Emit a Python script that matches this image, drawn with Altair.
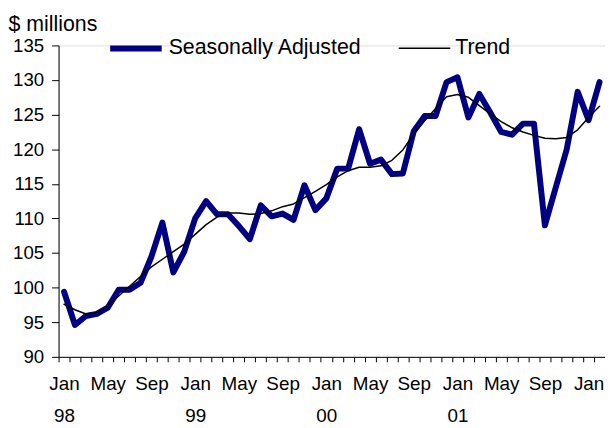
import altair as alt
import pandas as pd

months = ["Jan", "Feb", "Mar", "Apr", "May", "Jun", "Jul", "Aug", "Sep", "Oct", "Nov", "Dec"]
years = ["98", "99", "00", "01", "02"]

seasonally_adjusted = [
    99.4, 94.6, 95.9, 96.2, 97.1, 99.7, 99.7, 100.7, 104.5, 109.4, 102.2, 105.2,
    110.0, 112.5, 110.6, 110.6, 108.9, 107.0, 111.9, 110.3, 110.7, 109.8, 114.8, 111.2,
    112.9, 117.2, 117.2, 122.9, 117.9, 118.5, 116.4, 116.5, 122.6, 124.8, 124.8, 129.7,
    130.4, 124.6, 128.0, 125.3, 122.5, 122.1, 123.7, 123.7, 109.0, 114.5, 120.0, 128.3,
    124.2, 129.7,
]
trend = [
    97.6, 96.8, 96.2, 96.4, 97.3, 98.8, 100.2, 101.6, 103.0, 104.1, 105.2, 106.3,
    107.7, 109.1, 110.2, 110.8, 110.8, 110.6, 110.7, 111.1, 111.7, 112.1, 113.0, 113.9,
    114.9, 116.0, 116.9, 117.4, 117.4, 117.6, 118.4, 119.9, 122.2, 124.1, 125.9, 127.6,
    127.9, 127.5, 126.3, 125.1, 124.0, 123.1, 122.5, 122.0, 121.6, 121.5, 121.7, 122.8,
    124.6, 126.2,
]
series_names = ["Seasonally Adjusted", "Trend"]

n = len(seasonally_adjusted)
rows = []
for name, vals in zip(series_names, [seasonally_adjusted, trend]):
    for i, v in enumerate(vals):
        rows.append({"i": i, "value": v, "series": name,
                     "month": months[i % 12], "year": years[i // 12]})
df = pd.DataFrame(rows)

# x-axis labels: every 4th month, with year under January (not for the last Jan)
label_parts = []
for i in range(n):
    if i % 4 == 0:
        m = months[i % 12]
        if m == "Jan" and i < 48:
            label_parts.append(f"datum.value == {i} ? ['{m}', '{years[i // 12]}']")
        else:
            label_parts.append(f"datum.value == {i} ? '{m}'")
label_expr = " : ".join(label_parts) + " : ''"

tick_values = [k * 0.5 - 0.5 for k in range(2 * n + 1)]

FONT = "Liberation Sans"

x_axis = alt.Axis(
    values=tick_values,
    labelExpr=label_expr,
    tickOpacity={"condition": {"test": "datum.value % 1 == 0", "value": 0}, "value": 1},
    tickSize=5,
    tickColor="#000",
    domainColor="#000",
    labelFont=FONT,
    labelFontSize=19,
    labelColor="#000",
    labelPadding=13,
    labelLineHeight=32,
    labelFlush=False,
    labelOverlap=False,
    labelBound=False,
    grid=False,
    title=None,
)

y_axis = alt.Axis(
    values=list(range(90, 136, 5)),
    tickSize=7,
    tickColor="#000",
    domainColor="#000",
    labelFont=FONT,
    labelFontSize=18.8,
    labelColor="#000",
    labelPadding=8,
    grid=False,
    title="$ millions",
    titleAngle=0,
    titleAlign="left",
    titleBaseline="alphabetic",
    titleX=-51,
    titleY=-15,
    titleFont=FONT,
    titleFontSize=21.5,
    titleFontWeight="normal",
    titleColor="#000",
)

legend = alt.Legend(
    orient="none",
    legendX=49,
    legendY=-26,
    direction="horizontal",
    title=None,
    symbolType="stroke",
    symbolSize=2700,
    labelFont=FONT,
    labelFontSize=21.5,
    labelColor="#000",
    labelLimit=0,
    labelOffset=4,
    columnPadding=34,
)

chart = alt.Chart(df).mark_line(strokeCap="round", strokeJoin="round").encode(
    x=alt.X("i:Q", scale=alt.Scale(domain=[-0.5, n - 0.5], nice=False, zero=False), axis=x_axis),
    y=alt.Y("value:Q", scale=alt.Scale(domain=[90, 135], nice=False, zero=False), axis=y_axis),
    color=alt.Color("series:N", scale=alt.Scale(domain=series_names, range=["#000080", "#000000"]), legend=legend),
    strokeWidth=alt.StrokeWidth("series:N", scale=alt.Scale(domain=series_names, range=[6, 1.5]), legend=legend),
    order="i:Q",
).properties(
    width=551,
    height=314,
    autosize=alt.AutoSizeParams(type="none"),
    padding={"left": 51, "top": 36, "right": 0, "bottom": 69},
).configure_view(stroke=None).configure(background="white")

chart.save("out.html", embed_options={"renderer": "svg", "actions": False})
